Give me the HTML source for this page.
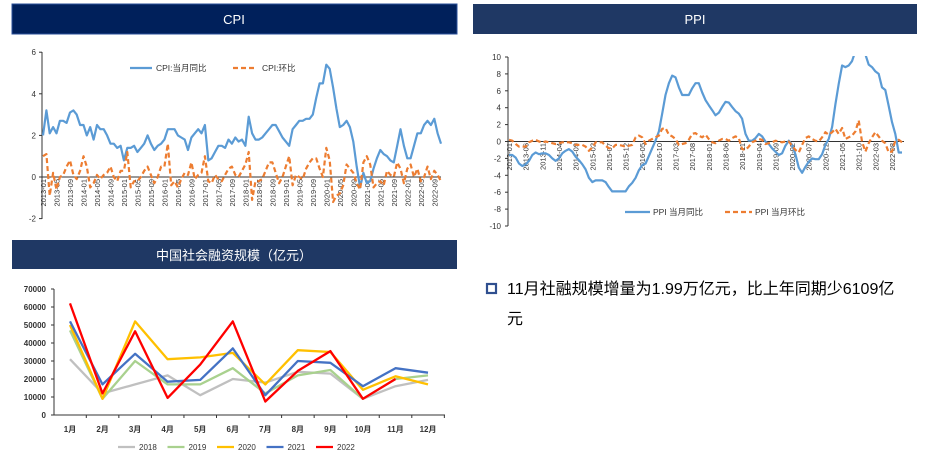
<!DOCTYPE html>
<html><head><meta charset="utf-8"><style>
body{margin:0;width:925px;height:460px;background:#fff;overflow:hidden;font-family:"Liberation Sans","Noto Sans CJK SC",sans-serif}
svg{position:absolute;left:0;top:0}
</style></head><body>
<svg id="s" width="925" height="460" xmlns="http://www.w3.org/2000/svg" font-family="Liberation Sans, Noto Sans CJK SC, sans-serif">
<rect x="12" y="4" width="445" height="30" fill="#00205b" stroke="#2a4f9a" stroke-width="1"/>
<text x="234" y="24" fill="#fff" font-size="13" text-anchor="middle">CPI</text>
<rect x="473" y="4" width="444" height="30" fill="#1f3864"/>
<text x="695" y="24" fill="#fff" font-size="13" text-anchor="middle">PPI</text>
<rect x="12" y="240" width="445" height="29" fill="#1f3864"/>
<text x="234" y="260" fill="#fff" font-size="13" text-anchor="middle">中国社会融资规模（亿元）</text>
<rect x="487" y="284" width="9" height="9" fill="none" stroke="#2f4f8f" stroke-width="2.2"/>
<text x="507" y="294" font-size="16" fill="#000">11月社融规模增量为1.99万亿元，比上年同期少6109亿</text>
<text x="507" y="324" font-size="16" fill="#000">元</text>
<g id="g"></g>
</svg>
<script>
var g=document.getElementById('g'),h='';
function pl(pts,col,w,dash){h+='<polyline fill="none" stroke="'+col+'" stroke-width="'+w+'" '+(dash?'stroke-dasharray="'+dash+'"':'')+' stroke-linejoin="round" points="'+pts.map(p=>p[0].toFixed(1)+','+p[1].toFixed(1)).join(' ')+'"/>';}
function tx(x,y,t,sz,anc,extra){h+='<text x="'+x+'" y="'+y+'" font-size="'+sz+'" fill="#333" text-anchor="'+(anc||'start')+'" '+(extra||'')+'>'+t+'</text>';}
var cy=[2.0,3.2,2.1,2.4,2.1,2.7,2.7,2.6,3.1,3.2,3.0,2.5,2.5,2.0,2.4,1.8,2.5,2.3,2.3,2.0,1.6,1.6,1.4,1.5,0.8,1.4,1.4,1.5,1.2,1.4,1.6,2.0,1.6,1.3,1.5,1.6,1.8,2.3,2.3,2.3,2.0,1.9,1.8,1.3,1.9,2.1,2.3,2.1,2.5,0.8,0.9,1.2,1.5,1.5,1.4,1.8,1.6,1.9,1.7,1.8,1.5,2.9,2.1,1.8,1.8,1.9,2.1,2.3,2.5,2.5,2.2,1.9,1.7,1.5,2.3,2.5,2.7,2.7,2.8,2.8,3.0,3.8,4.5,4.5,5.4,5.2,4.3,3.3,2.4,2.5,2.7,2.4,1.7,0.5,-0.5,0.2,-0.3,-0.2,0.4,0.9,1.3,1.1,1.0,0.8,0.7,1.5,2.3,1.5,0.9,0.9,1.5,2.1,2.1,2.5,2.7,2.5,2.8,2.1,1.6];
var cm=[1.0,1.1,-0.9,0.2,-0.6,0.0,0.1,0.5,0.8,0.1,-0.1,0.3,1.0,0.5,-0.5,-0.3,0.1,-0.1,0.1,0.2,0.5,0.0,-0.2,0.3,0.3,1.2,-0.5,-0.2,-0.2,0.0,0.3,0.5,0.1,-0.3,0.0,0.5,0.5,1.6,-0.4,-0.2,-0.5,-0.1,0.2,0.1,0.7,-0.1,0.1,0.2,1.0,-0.2,-0.3,0.1,-0.1,-0.2,0.1,0.4,0.5,0.1,0.0,0.3,0.6,1.2,-1.1,-0.2,-0.2,-0.1,0.3,0.7,0.7,0.2,-0.3,0.0,0.5,1.0,-0.4,0.1,0.0,-0.1,0.4,0.7,0.9,0.9,0.4,0.0,1.4,0.8,-1.2,-0.9,-0.8,-0.4,0.6,0.4,0.2,-0.3,-0.6,0.7,1.0,0.6,-0.5,-0.3,-0.2,-0.4,0.3,0.1,0.0,0.7,0.4,-0.3,0.4,0.6,0.0,0.4,-0.2,0.0,0.5,-0.1,0.3,0.1,-0.2];
var cx0=43,cdx=(441-43)/118,Y=v=>177-v*20.8;
h+='<line x1="42" y1="52" x2="42" y2="219" stroke="#333"/><line x1="42" y1="177" x2="441" y2="177" stroke="#333"/>';
[6,4,2,0,-2].forEach(v=>{tx(36,Y(v)+3,v,8,'end');h+='<line x1="39" y1="'+Y(v)+'" x2="42" y2="'+Y(v)+'" stroke="#333"/>';});
for(var i=0;i<119;i+=4){var x=cx0+i*cdx,yr=2013+Math.floor(i/12),m=i%12+1;tx(0,0,yr+'-'+(m<10?'0':'')+m,7.5,'end','transform="translate('+(x+3)+',179) rotate(-90)"');}
pl(cy.map((v,i)=>[cx0+i*cdx,Y(v)]),'#5b9bd5',2.2);
pl(cm.map((v,i)=>[cx0+i*cdx,Y(v)]),'#ed7d31',2.2,'5,3');
h+='<line x1="130" y1="68" x2="152" y2="68" stroke="#5b9bd5" stroke-width="2.2"/>';tx(156,71,'CPI:当月同比',8.5);
h+='<line x1="233" y1="68" x2="255" y2="68" stroke="#ed7d31" stroke-width="2.2" stroke-dasharray="5,3"/>';tx(262,71,'CPI:环比',8.5);
var py=[-1.6,-1.6,-1.9,-2.6,-2.9,-2.7,-2.3,-1.6,-1.3,-1.5,-1.4,-1.4,-1.6,-2.0,-2.3,-2.0,-1.4,-1.1,-0.9,-1.2,-1.8,-2.2,-2.7,-3.3,-4.3,-4.8,-4.6,-4.6,-4.6,-4.8,-5.4,-5.9,-5.9,-5.9,-5.9,-5.9,-5.3,-4.9,-4.3,-3.4,-2.8,-2.6,-1.7,-0.8,0.1,1.2,3.3,5.5,6.9,7.8,7.6,6.4,5.5,5.5,5.5,6.3,6.9,6.9,5.8,4.9,4.3,3.7,3.1,3.4,4.1,4.7,4.6,4.1,3.6,3.3,2.7,0.9,0.1,0.1,0.4,0.9,0.6,0.0,-0.3,-0.8,-1.2,-1.6,-1.4,-0.5,0.1,-0.4,-1.5,-3.1,-3.7,-3.0,-2.4,-2.0,-2.1,-2.1,-1.5,-0.4,0.3,1.7,4.4,6.8,9.0,8.8,9.0,9.5,10.7,13.5,12.9,10.3,9.1,8.8,8.3,8.0,6.4,6.1,4.2,2.3,0.9,-1.3,-1.3];
var pm=[0.2,0.1,-0.3,-0.6,-0.6,-0.6,-0.1,0.1,0.2,0.0,-0.1,0.0,-0.1,-0.2,-0.3,-0.2,-0.1,-0.1,-0.1,-0.2,-0.4,-0.4,-0.4,-0.6,-1.1,-0.7,-0.1,-0.1,-0.1,-0.5,-0.8,-0.8,-0.4,-0.4,-0.5,-0.6,-0.5,-0.4,0.5,0.7,0.5,-0.3,0.1,0.3,0.5,0.7,1.5,1.6,0.8,0.6,0.3,-0.4,-0.3,-0.2,0.2,0.9,1.0,0.7,0.5,0.8,0.3,-0.1,-0.2,0.1,0.3,0.3,0.1,0.4,0.6,0.4,-0.9,-1.0,-0.6,-0.1,0.1,0.3,0.2,-0.3,-0.2,-0.1,0.1,0.0,-0.1,0.0,0.0,-0.5,-1.0,-1.3,-0.4,0.4,0.6,0.3,0.1,0.0,0.5,1.1,0.8,1.1,1.5,0.9,1.6,0.3,0.5,0.7,1.2,2.5,0.0,-1.2,-0.2,0.5,1.1,0.6,0.1,-0.2,-1.3,-1.2,0.1,0.2,-0.1];
var px0=509,pdx=(902-509)/118,PY=v=>141.5-v*8.45;
h+='<defs><clipPath id="pc"><rect x="500" y="56" width="420" height="175"/></clipPath></defs>';
h+='<line x1="508" y1="57" x2="508" y2="226" stroke="#333"/><line x1="508" y1="141.5" x2="904" y2="141.5" stroke="#333"/>';
for(var v=10;v>=-10;v-=2){tx(501,PY(v)+3,v,8,'end');h+='<line x1="505" y1="'+PY(v)+'" x2="508" y2="'+PY(v)+'" stroke="#333"/>';}
for(var i=0;i<119;i+=5){var x=px0+i*pdx,yr=2013+Math.floor(i/12),m=i%12+1;tx(0,0,yr+'-'+(m<10?'0':'')+m,7.5,'end','transform="translate('+(x+3)+',143) rotate(-90)"');}
h+='<g clip-path="url(#pc)">';
pl(py.map((v,i)=>[px0+i*pdx,PY(v)]),'#5b9bd5',2.2);
pl(pm.map((v,i)=>[px0+i*pdx,PY(v)]),'#ed7d31',2.2,'5,3');
h+='</g>';
h+='<line x1="625" y1="212" x2="650" y2="212" stroke="#5b9bd5" stroke-width="2.2"/>';tx(653,215,'PPI 当月同比',8.5);
h+='<line x1="725" y1="212" x2="752" y2="212" stroke="#ed7d31" stroke-width="2.2" stroke-dasharray="5,3"/>';tx(755,215,'PPI 当月环比',8.5);
var SY=v=>415-v*126/70000,SX=i=>70+i*32.55;
h+='<line x1="54" y1="289" x2="54" y2="415" stroke="#333"/><line x1="54" y1="415" x2="445" y2="415" stroke="#333"/>';
for(var v=0;v<=70000;v+=10000){tx(46,SY(v)+3,v,8,'end','font-weight="bold"');h+='<line x1="51" y1="'+SY(v)+'" x2="54" y2="'+SY(v)+'" stroke="#333"/>';}
for(var i=0;i<12;i++){tx(SX(i),432,(i+1)+'月',8,'middle','font-weight="bold"');h+='<line x1="'+(SX(i)+16.3)+'" y1="415" x2="'+(SX(i)+16.3)+'" y2="418" stroke="#333"/>';}
var S={'#c0c0c0':[31000,12000,17000,22000,11000,20000,18000,24000,23000,9000,16000,19500],
'#a9d18e':[47000,9000,30000,17000,17000,26000,12000,22000,25000,9000,20000,22000],
'#ffc000':[50000,9000,52000,31000,32000,34500,17000,36000,35000,14000,21500,17000],
'#4472c4':[52000,17000,34000,18500,19500,37000,11000,30000,29000,16000,26000,23500],
'#ff0000':[62000,12000,46500,9500,28000,52000,7500,24500,35500,9000,20000]};
var yrs=['2018','2019','2020','2021','2022'],k=0;
for(var c in S){pl(S[c].map((v,i)=>[SX(i),SY(v)]),c,2.3);var lx=118+k*49.5;h+='<line x1="'+lx+'" y1="447" x2="'+(lx+17)+'" y2="447" stroke="'+c+'" stroke-width="2.3"/>';tx(lx+21,450,yrs[k],8);k++;}
g.innerHTML=h;
</script>
</body></html>
